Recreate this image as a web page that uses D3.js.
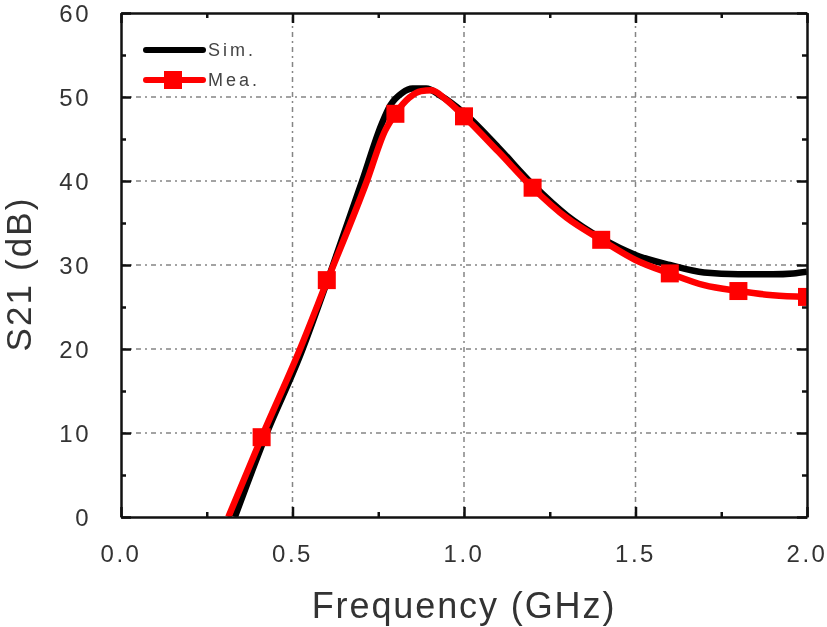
<html>
  <head>
    <script src="https://cdnjs.cloudflare.com/ajax/libs/d3/7.8.5/d3.min.js"></script>
    <style>
      * {
        margin: 0;
        padding: 0;
      }
      body {
        background-color: white;
      }
      svg {
        display: block;
        font-family: "Liberation Sans", Arial, sans-serif;
        filter: blur(0.45px);
      }
      .grid {
        stroke: #858585;
        stroke-width: 1.5px;
        stroke-dasharray: 5 4 2 4;
      }
      .tickLabel {
        fill: #333;
        font-size: 24px;
        letter-spacing: 2.5px;
      }
      .axisTitle {
        fill: #333;
      }
    </style>
  </head>
  <body>
    <script>
      const w = 827;
      const h = 627;

      const sim = [
        [0.332, 0], [0.425, 10], [0.52, 19], [0.618, 30], [0.703, 40], [0.76, 46.8],
        [0.785, 49], [0.82, 50.5], [0.85, 51], [0.89, 51], [0.93, 50.2],
        [1.0, 48.1], [1.1, 44], [1.2, 39.6], [1.3, 35.9], [1.4, 33.2], [1.5, 31.2],
        [1.6, 30], [1.7, 29.1], [1.8, 28.9], [1.9, 28.9], [1.96, 29], [2.0, 29.2],
      ];
      const mea = [
        [0.313, 0], [0.41, 9.5], [0.522, 20], [0.6, 28], [0.717, 40],
        [0.77, 46], [0.8, 48], [0.84, 49.9], [0.875, 50.7], [0.905, 50.8], [0.95, 49.6],
        [1.0, 47.7], [1.1, 43.5], [1.2, 39.2], [1.3, 35.6], [1.4, 33], [1.5, 30.6],
        [1.6, 29], [1.7, 27.6], [1.8, 26.9], [1.9, 26.4], [2.0, 26.2],
      ];
      const meaMarkers = [
        [0.41, 9.5], [0.6, 28.2], [0.8, 48], [1.0, 47.7], [1.2, 39.2],
        [1.4, 33], [1.6, 29], [1.8, 26.9], [2.0, 26.2],
      ];

      const xScale = d3.scaleLinear().domain([0, 2]).range([121, 807]);
      const yScale = d3.scaleLinear().domain([0, 60]).range([517, 13]);

      const svg = d3.select("body").append("svg").attr("width", w).attr("height", h);

      svg.append("clipPath")
        .attr("id", "plotClip")
        .append("rect")
        .attr("x", xScale(0))
        .attr("y", yScale(60))
        .attr("width", xScale(2) - xScale(0))
        .attr("height", yScale(0) - yScale(60));

      // grid
      svg.selectAll(".gridX")
        .data([0.5, 1, 1.5])
        .enter()
        .append("line")
        .attr("class", "grid")
        .attr("x1", (d) => xScale(d))
        .attr("x2", (d) => xScale(d))
        .attr("y1", yScale(0))
        .attr("y2", yScale(60));

      svg.selectAll(".gridY")
        .data([10, 20, 30, 40, 50])
        .enter()
        .append("line")
        .attr("class", "grid")
        .attr("x1", xScale(0))
        .attr("x2", xScale(2))
        .attr("y1", (d) => yScale(d))
        .attr("y2", (d) => yScale(d));

      const line = d3.line()
        .x((d) => xScale(d[0]))
        .y((d) => yScale(d[1]))
        .curve(d3.curveMonotoneX);

      const plot = svg.append("g").attr("clip-path", "url(#plotClip)");

      plot.append("path")
        .attr("d", line(sim))
        .attr("fill", "none")
        .attr("stroke", "black")
        .attr("stroke-width", 6.5);

      plot.append("path")
        .attr("d", line(mea))
        .attr("fill", "none")
        .attr("stroke", "#ff0000")
        .attr("stroke-width", 6.5);

      plot.selectAll("rect")
        .data(meaMarkers)
        .enter()
        .append("rect")
        .attr("x", (d) => xScale(d[0]) - 9)
        .attr("y", (d) => yScale(d[1]) - 9)
        .attr("width", 18)
        .attr("height", 18)
        .attr("fill", "#ff0000");

      // axes, four sides with inward ticks
      const xTicks = d3.range(0, 2.01, 0.25);
      const yTicks = d3.range(0, 61, 5);
      const tickLen = (v, step) => (Math.abs(v / step - Math.round(v / step)) < 1e-6 ? 10 : 5);

      const axisBottom = d3.axisBottom(xScale).tickValues(xTicks).tickFormat("").tickSize(0);
      const axisLeft = d3.axisLeft(yScale).tickValues(yTicks).tickFormat("").tickSize(0);

      svg.append("g")
        .attr("transform", "translate(0," + yScale(0) + ")")
        .call(axisBottom)
        .call((g) => g.selectAll(".tick line").attr("y2", (d) => -tickLen(d, 0.5)));
      svg.append("g")
        .attr("transform", "translate(0," + yScale(60) + ")")
        .call(axisBottom)
        .call((g) => g.selectAll(".tick line").attr("y2", (d) => tickLen(d, 0.5)));
      svg.append("g")
        .attr("transform", "translate(" + xScale(0) + ",0)")
        .call(axisLeft)
        .call((g) => g.selectAll(".tick line").attr("x2", (d) => tickLen(d, 10)));
      svg.append("g")
        .attr("transform", "translate(" + xScale(2) + ",0)")
        .call(axisLeft)
        .call((g) => g.selectAll(".tick line").attr("x2", (d) => -tickLen(d, 10)));

      svg.selectAll("g .domain, g .tick line")
        .attr("stroke", "#111")
        .attr("stroke-width", 2.5);

      // tick labels
      svg.selectAll(".xLabel")
        .data([0, 0.5, 1, 1.5, 2])
        .enter()
        .append("text")
        .attr("class", "tickLabel")
        .attr("x", (d) => xScale(d))
        .attr("y", 562)
        .attr("text-anchor", "middle")
        .text((d) => d3.format(".1f")(d));

      svg.selectAll(".yLabel")
        .data([0, 10, 20, 30, 40, 50, 60])
        .enter()
        .append("text")
        .attr("class", "tickLabel")
        .attr("x", 91)
        .attr("y", (d) => yScale(d) + 9)
        .attr("text-anchor", "end")
        .text((d) => d);

      // axis titles
      svg.append("text")
        .attr("class", "axisTitle")
        .attr("x", 464)
        .attr("y", 618)
        .attr("text-anchor", "middle")
        .attr("font-size", 36)
        .attr("letter-spacing", 1.9)
        .text("Frequency (GHz)");

      svg.append("text")
        .attr("class", "axisTitle")
        .attr("transform", "translate(31,274) rotate(-90)")
        .attr("text-anchor", "middle")
        .attr("font-size", 35)
        .attr("letter-spacing", 2.1)
        .text("S21 (dB)");

      // legend
      const legend = svg.append("g");
      [
        { name: "Sim.", color: "black", y: 50, marker: false },
        { name: "Mea.", color: "#ff0000", y: 80, marker: true },
      ].forEach((d) => {
        legend.append("line")
          .attr("x1", 146)
          .attr("x2", 203)
          .attr("y1", d.y)
          .attr("y2", d.y)
          .attr("stroke", d.color)
          .attr("stroke-width", 6)
          .attr("stroke-linecap", "round");
        if (d.marker) {
          legend.append("rect")
            .attr("x", 164)
            .attr("y", d.y - 9)
            .attr("width", 18)
            .attr("height", 18)
            .attr("fill", d.color);
        }
        legend.append("text")
          .attr("x", 208)
          .attr("y", d.y + 6)
          .attr("font-size", 18)
          .attr("letter-spacing", 3)
          .attr("fill", "#444")
          .text(d.name);
      });
    </script>
  </body>
</html>
